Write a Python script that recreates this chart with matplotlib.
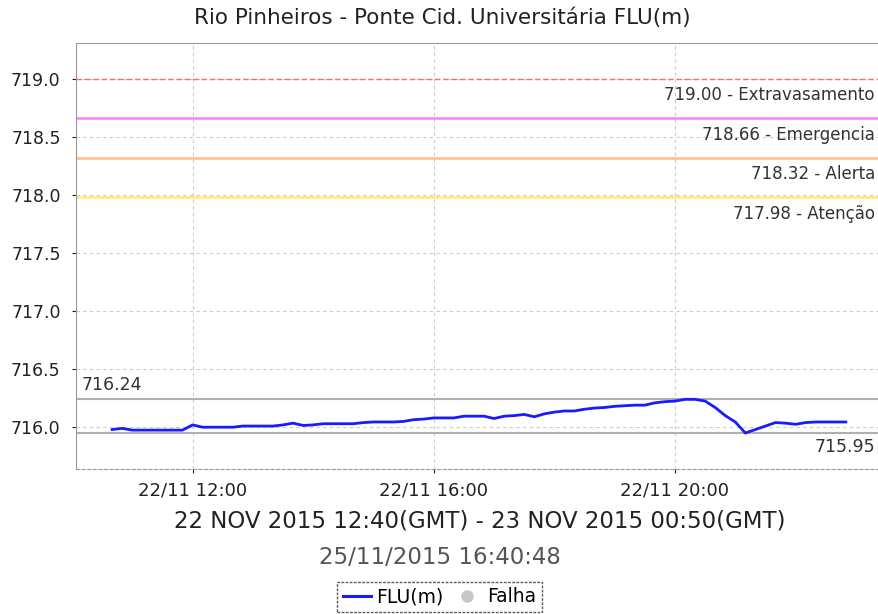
import numpy as np
import pandas as pd
import matplotlib
matplotlib.use("Agg")
import matplotlib.pyplot as plt
import matplotlib.dates as mdates
from matplotlib.lines import Line2D

# --- DATA ---
start_time = "2015-11-22 10:40"
level_flu = [
    715.980, 715.990, 715.975, 715.975, 715.975, 715.975, 715.975, 715.975,
    716.020, 716.000, 716.000, 716.000, 716.000, 716.010, 716.010, 716.010,
    716.010, 716.020, 716.035, 716.015, 716.020, 716.030, 716.030, 716.030,
    716.030, 716.040, 716.045, 716.045, 716.045, 716.050, 716.065, 716.070,
    716.080, 716.080, 716.080, 716.095, 716.095, 716.095, 716.075, 716.095,
    716.100, 716.110, 716.090, 716.115, 716.130, 716.140, 716.140, 716.155,
    716.165, 716.170, 716.180, 716.185, 716.190, 716.190, 716.210, 716.220,
    716.225, 716.240, 716.240, 716.225, 716.170, 716.100, 716.045, 715.950,
    715.980, 716.010, 716.040, 716.035, 716.025, 716.040, 716.045, 716.045,
    716.045, 716.045,
]
threshold_values = [719.00, 718.66, 718.32, 717.98]
threshold_names = ["Extravasamento", "Emergencia", "Alerta", "Atenção"]
max_level = 716.24
min_level = 715.95
y_ticks = [716.0, 716.5, 717.0, 717.5, 718.0, 718.5, 719.0]
x_ticks = ["2015-11-22 12:00", "2015-11-22 16:00", "2015-11-22 20:00"]

times = pd.date_range(start_time, periods=len(level_flu), freq="10min")

fig = plt.figure(figsize=(8.79, 6.14), dpi=100)
ax = fig.add_axes([76 / 879, 1 - 469 / 614, 1 - 76 / 879, (469 - 43) / 614])

# threshold lines
th_colors = ["#ff6a6a", "#ff7dff", "#ffbf80", "#ffe97a"]
th_styles = [(0, (4, 2)), "-", "-", "-"]
th_widths = [1.0, 1.8, 1.8, 1.8]
for val, name, c, ls, lw in zip(threshold_values, threshold_names, th_colors, th_styles, th_widths):
    ax.axhline(val, color=c, ls=ls, lw=lw, zorder=2)
    ax.text(0.995, val - 0.14, f"{val:.2f} - {name}", transform=ax.get_yaxis_transform(),
            ha="right", va="center", fontsize=12, color="#333333")

# max / min reference lines
ax.axhline(max_level, color="#b0b0b0", lw=1.5, zorder=2)
ax.axhline(min_level, color="#b0b0b0", lw=1.5, zorder=2)
ax.text(0.007, max_level + 0.12, f"{max_level:.2f}", transform=ax.get_yaxis_transform(),
        ha="left", va="center", fontsize=12.5, color="#333333")
ax.text(0.995, min_level - 0.12, f"{min_level:.2f}", transform=ax.get_yaxis_transform(),
        ha="right", va="center", fontsize=12.5, color="#333333")

ax.plot(times, level_flu, color="#1a1aff", lw=2.0, zorder=3)

ax.set_xlim(pd.Timestamp("2015-11-22 10:04"), pd.Timestamp("2015-11-22 23:23"))
ax.set_ylim(715.64, 719.31)
ax.set_yticks(y_ticks)
ax.set_yticklabels([f"{v:.1f}" for v in y_ticks])
ax.set_xticks(pd.to_datetime(x_ticks))
ax.xaxis.set_major_formatter(mdates.DateFormatter("%d/%m %H:%M"))
ax.tick_params(axis="both", colors="#222222", length=3, width=0.8)
ax.tick_params(axis="y", labelsize=12.5, pad=8)
ax.tick_params(axis="x", labelsize=13, pad=6)

ax.grid(True, color="#cccccc", ls=(0, (3, 3)), lw=0.8, zorder=0)
ax.set_axisbelow(True)
for side in ["top", "left"]:
    ax.spines[side].set_color("#999999")
ax.spines["right"].set_visible(False)
ax.spines["bottom"].set_color("#999999")
ax.spines["bottom"].set_linestyle((0, (3, 2)))

fig.text(0.503, 1 - 18 / 614, "Rio Pinheiros - Ponte Cid. Universitária FLU(m)",
         ha="center", va="center", fontsize=15.5, color="#222222")
fig.text(0.546, 1 - 521 / 614, "22 NOV 2015 12:40(GMT) - 23 NOV 2015 00:50(GMT)",
         ha="center", va="center", fontsize=16.5, color="#222222")
fig.text(0.5, 1 - 557 / 614, "25/11/2015 16:40:48",
         ha="center", va="center", fontsize=16.5, color="#555555")

handles = [Line2D([0], [0], color="#1a1aff", lw=2.2),
           Line2D([0], [0], color="#c8c8c8", marker="o", ls="none", markersize=8)]
leg = fig.legend(handles, ["FLU(m)", "Falha"], loc="center", bbox_to_anchor=(0.5, 1 - 597 / 614),
                 ncol=2, fontsize=13.5, frameon=True, fancybox=False, handlelength=1.5,
                 handletextpad=0.3, columnspacing=0.5, borderpad=0.3)
leg.get_frame().set_edgecolor("#333333")
leg.get_frame().set_linestyle((0, (2, 1)))
leg.get_frame().set_linewidth(1.0)

fig.savefig("out.png", dpi=100)
